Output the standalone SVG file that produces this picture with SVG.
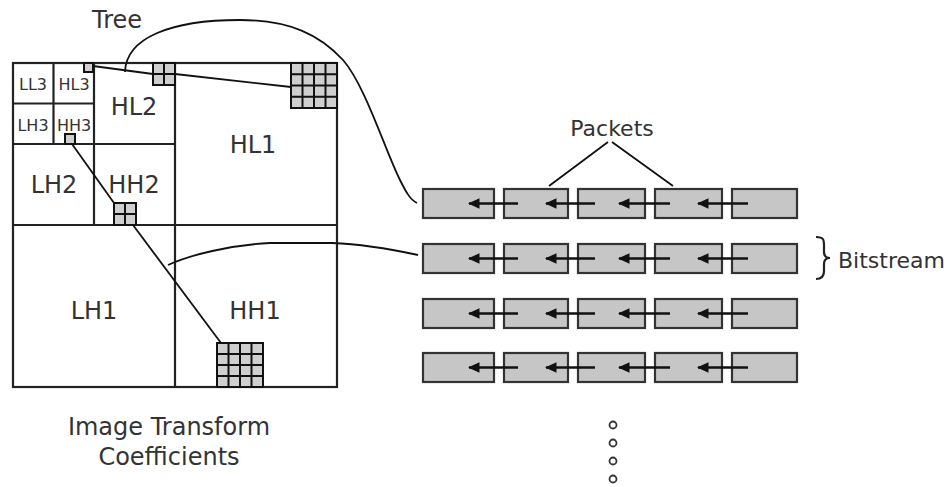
<svg xmlns="http://www.w3.org/2000/svg" width="950" height="487" viewBox="0 0 950 487">
<style>
text{font-family:"DejaVu Sans","Liberation Sans",sans-serif;fill:#333}
.grid{fill:none;stroke:#222;stroke-width:2.2}
.cell{fill:#cfcfcf;stroke:#111;stroke-width:2}
.pk{fill:#c6c6c6;stroke:#333;stroke-width:2.2}
.ar{stroke:#111;stroke-width:2.6;fill:none}
.ln{stroke:#111;stroke-width:1.8;fill:none}
.dot{fill:none;stroke:#333;stroke-width:1.8}
.sm{font-size:16px}
</style>
<defs>
<marker id="ah" markerWidth="4.5" markerHeight="4.2" viewBox="0 0 10 9" refX="9" refY="4.5" orient="auto" markerUnits="strokeWidth">
<path d="M0,0 L10,4.5 L0,9 Z" fill="#111"/>
</marker>
</defs>
<rect width="950" height="487" fill="#fff"/>

<g id="coefficients">
<rect class="grid" x="13" y="63" width="324" height="324"/>
<path class="grid" d="M175,63 V387 M13,225 H337 M94,63 V225 M13,144 H175 M53.5,63 V144 M13,103.5 H94"/>
<text class="sm" x="33" y="90" text-anchor="middle">LL3</text>
<text class="sm" x="74" y="90" text-anchor="middle">HL3</text>
<text class="sm" x="33" y="131" text-anchor="middle">LH3</text>
<text class="sm" x="74" y="131" text-anchor="middle">HH3</text>
<text x="134" y="115" font-size="24" text-anchor="middle">HL2</text>
<text x="54" y="193" font-size="24" text-anchor="middle">LH2</text>
<text x="134" y="193" font-size="24" text-anchor="middle">HH2</text>
<text x="253" y="153" font-size="24" text-anchor="middle">HL1</text>
<text x="94" y="319" font-size="24" text-anchor="middle">LH1</text>
<text x="255" y="319" font-size="24" text-anchor="middle">HH1</text>
<text x="169" y="435" font-size="24" text-anchor="middle">Image Transform</text>
<text x="169" y="465" font-size="24" text-anchor="middle">Coefficients</text>
<text x="92" y="28" font-size="24">Tree</text>
</g>

<g id="tree-blocks">
<rect class="cell" x="84" y="63" width="9" height="9"/>
<rect class="cell" x="65" y="134" width="10" height="10"/>
<g id="hl2-block">
<rect class="cell" x="153" y="63" width="22" height="22"/>
<path class="cell" d="M164,63 V85 M153,74 H175"/>
</g>
<g id="hh2-block">
<rect class="cell" x="114" y="203" width="22" height="22"/>
<path class="cell" d="M125,203 V225 M114,214 H136"/>
</g>
<g id="hl1-block">
<rect class="cell" x="291" y="63" width="46" height="45"/>
<path class="cell" d="M302.5,63 V108 M314,63 V108 M325.5,63 V108 M291,74.25 H337 M291,85.5 H337 M291,96.75 H337"/>
</g>
<g id="hh1-block">
<rect class="cell" x="217" y="343" width="46" height="44"/>
<path class="cell" d="M228.5,343 V387 M240,343 V387 M251.5,343 V387 M217,354 H263 M217,365 H263 M217,376 H263"/>
</g>
</g>

<g id="connectors">
<path class="ln" d="M93,66 L153,74"/>
<path class="ln" d="M175,74 L291,87"/>
<path class="ln" d="M72,144 L114,203"/>
<path class="ln" d="M133,225 L221,343"/>
<path class="ln" d="M125,72 C126,38 170,20 240,20 C 290,20 320,35 343,60 C 365,85 385,150 400,180 C 405,190 410,200 417,203"/>
<path class="ln" d="M168,265 C 190,255 230,245 270,243 L 332,243 C 360,244 395,250 418,255"/>
<path class="ln" d="M608,142 L549,186 M612,142 L673,186"/>
</g>

<g id="packets">
<g id="row1">
<rect class="pk" x="423" y="189" width="71" height="29"/>
<rect class="pk" x="504" y="189" width="64" height="29"/>
<rect class="pk" x="578" y="189" width="67" height="29"/>
<rect class="pk" x="655" y="189" width="67" height="29"/>
<rect class="pk" x="732" y="189" width="65" height="29"/>
</g>
<g id="row2">
<rect class="pk" x="423" y="244" width="71" height="29"/>
<rect class="pk" x="504" y="244" width="64" height="29"/>
<rect class="pk" x="578" y="244" width="67" height="29"/>
<rect class="pk" x="655" y="244" width="67" height="29"/>
<rect class="pk" x="732" y="244" width="65" height="29"/>
</g>
<g id="row3">
<rect class="pk" x="423" y="299" width="71" height="29"/>
<rect class="pk" x="504" y="299" width="64" height="29"/>
<rect class="pk" x="578" y="299" width="67" height="29"/>
<rect class="pk" x="655" y="299" width="67" height="29"/>
<rect class="pk" x="732" y="299" width="65" height="29"/>
</g>
<g id="row4">
<rect class="pk" x="423" y="353" width="71" height="29"/>
<rect class="pk" x="504" y="353" width="64" height="29"/>
<rect class="pk" x="578" y="353" width="67" height="29"/>
<rect class="pk" x="655" y="353" width="67" height="29"/>
<rect class="pk" x="732" y="353" width="65" height="29"/>
</g>
<text x="612" y="136" font-size="22" text-anchor="middle">Packets</text>
</g>

<g id="packet-arrows">
<path class="ar" marker-end="url(#ah)" d="M518,203.5 H469"/>
<path class="ar" marker-end="url(#ah)" d="M595,203.5 H546"/>
<path class="ar" marker-end="url(#ah)" d="M670,203.5 H619"/>
<path class="ar" marker-end="url(#ah)" d="M748,203.5 H698"/>
<path class="ar" marker-end="url(#ah)" d="M518,258.5 H469"/>
<path class="ar" marker-end="url(#ah)" d="M595,258.5 H546"/>
<path class="ar" marker-end="url(#ah)" d="M670,258.5 H619"/>
<path class="ar" marker-end="url(#ah)" d="M748,258.5 H698"/>
<path class="ar" marker-end="url(#ah)" d="M518,313.5 H469"/>
<path class="ar" marker-end="url(#ah)" d="M595,313.5 H546"/>
<path class="ar" marker-end="url(#ah)" d="M670,313.5 H619"/>
<path class="ar" marker-end="url(#ah)" d="M748,313.5 H698"/>
<path class="ar" marker-end="url(#ah)" d="M518,367.5 H469"/>
<path class="ar" marker-end="url(#ah)" d="M595,367.5 H546"/>
<path class="ar" marker-end="url(#ah)" d="M670,367.5 H619"/>
<path class="ar" marker-end="url(#ah)" d="M748,367.5 H698"/>
</g>

<g id="bitstream">
<path d="M816,237 C824,237 824,240 824,246 L824,252 C824,256 826,258 830,258 C826,258 824,260 824,264 L824,271 C824,276 822,279 816,279" fill="none" stroke="#222" stroke-width="2.2"/>
<text x="838" y="268" font-size="22">Bitstream</text>
</g>

<g id="more-dots">
<circle class="dot" cx="613" cy="425" r="3.5"/>
<circle class="dot" cx="613" cy="443" r="3.5"/>
<circle class="dot" cx="613" cy="461" r="3.5"/>
<circle class="dot" cx="613" cy="479" r="3.5"/>
</g>
</svg>
